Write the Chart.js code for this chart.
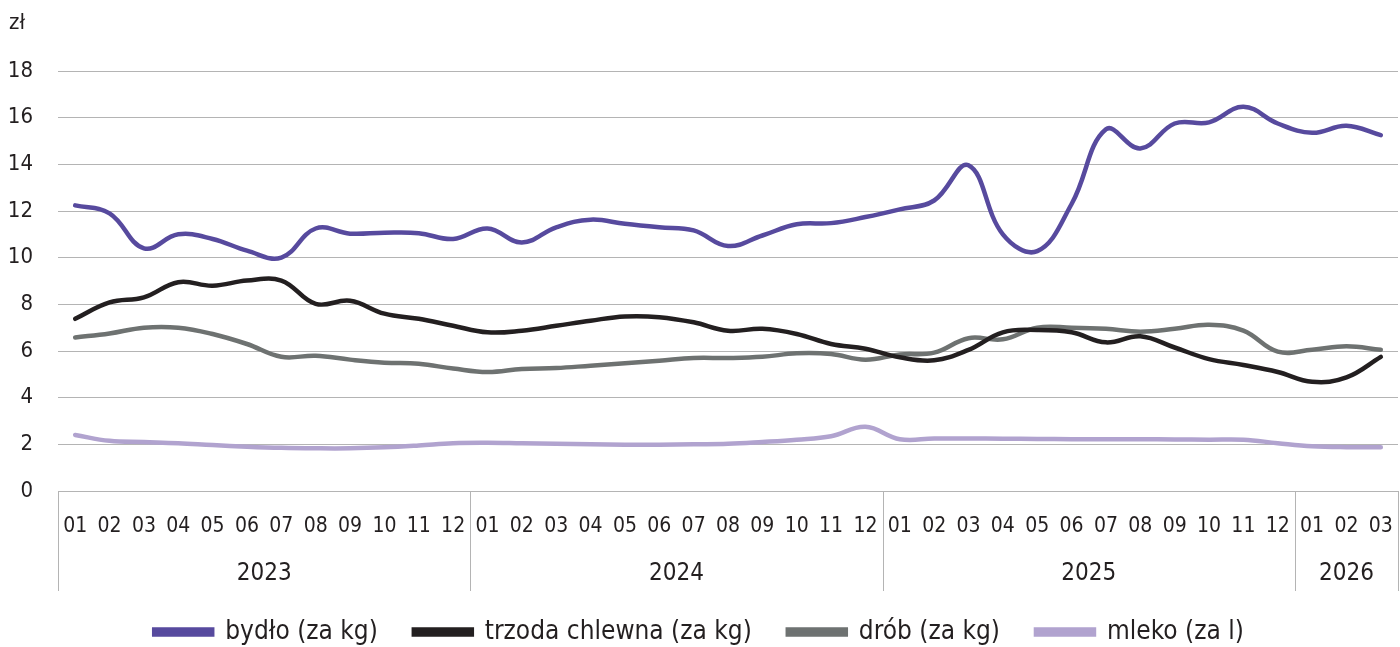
<!DOCTYPE html>
<html>
<head>
<meta charset="utf-8">
<script src="https://cdn.jsdelivr.net/npm/chart.js@4/dist/chart.umd.min.js"></script>
<style>
    html, body {margin: 0; padding: 0; background: #fff;}
    #wrap {width: 1400px; height: 647px;}
</style>
</head>
<body>
<div id="wrap"><canvas id="priceChart"></canvas></div>
<script>
"use strict";

const months = ["01","02","03","04","05","06","07","08","09","10","11","12",
    "01","02","03","04","05","06","07","08","09","10","11","12",
    "01","02","03","04","05","06","07","08","09","10","11","12",
    "01","02","03"];
const years = ["2023", "2024", "2025", "2026"];
const yearSizes = [12, 12, 12, 3];

const bydlo = [12.24, 11.9, 10.4, 11.0, 10.8, 10.3, 10.0, 11.25, 11.03, 11.07, 11.05, 10.8,
    11.25, 10.65, 11.3, 11.63, 11.45, 11.3, 11.17, 10.5, 10.95, 11.43, 11.48, 11.74,
    12.07, 12.45, 13.96, 11.0, 10.28, 12.3, 15.5, 14.68, 15.75, 15.8, 16.47, 15.75,
    15.35, 15.65, 15.25];
const trzoda = [7.38, 8.08, 8.3, 8.95, 8.8, 9.02, 9.02, 8.02, 8.15, 7.6, 7.38, 7.08,
    6.8, 6.87, 7.08, 7.3, 7.48, 7.45, 7.23, 6.87, 6.95, 6.73, 6.3, 6.1,
    5.73, 5.6, 6.05, 6.8, 6.9, 6.8, 6.37, 6.63, 6.15, 5.65, 5.4, 5.1,
    4.68, 4.87, 5.75];
const drob = [6.58, 6.75, 7.0, 7.0, 6.73, 6.3, 5.75, 5.8, 5.63, 5.5, 5.45, 5.25,
    5.1, 5.23, 5.27, 5.37, 5.47, 5.58, 5.7, 5.7, 5.75, 5.9, 5.87, 5.63,
    5.85, 5.93, 6.55, 6.5, 7.0, 7.0, 6.95, 6.83, 6.95, 7.12, 6.87, 5.97,
    6.05, 6.2, 6.05];
const mleko = [2.4, 2.15, 2.1, 2.05, 1.97, 1.9, 1.85, 1.83, 1.83, 1.87, 1.95, 2.05,
    2.07, 2.05, 2.03, 2.0, 1.98, 1.98, 2.0, 2.02, 2.1, 2.2, 2.35, 2.75,
    2.22, 2.25, 2.25, 2.24, 2.23, 2.22, 2.22, 2.22, 2.21, 2.2, 2.2, 2.05,
    1.92, 1.88, 1.88];

const FONT = "'Liberation Sans Narrow', 'DejaVu Sans Condensed', Roboto, sans-serif";
const textColor = '#231f20';
const lineColor = '#b4b4b4';

const yearAxisPlugin = {
    id: 'yearAxis',
    afterDraw(chart) {
        const ctx = chart.ctx;
        const x = chart.scales.x;
        const top = chart.chartArea.bottom;
        const step = x.getPixelForValue(1) - x.getPixelForValue(0);
        ctx.save();
        ctx.strokeStyle = lineColor;
        ctx.lineWidth = 1;
        let start = 0;
        const edges = [x.getPixelForValue(0) - step / 2];
        for (let i = 0; i < years.length; i++) {
            const end = start + yearSizes[i] - 1;
            edges.push(x.getPixelForValue(end) + step / 2);
            const mid = (x.getPixelForValue(start) + x.getPixelForValue(end)) / 2;
            ctx.fillStyle = textColor;
            ctx.font = "24px " + FONT;
            ctx.textAlign = 'center';
            ctx.textBaseline = 'middle';
            ctx.fillText(years[i], mid, top + 83);
            start = end + 1;
        }
        edges.forEach(e => {
            ctx.beginPath();
            ctx.moveTo(Math.round(e) + 0.5, top);
            ctx.lineTo(Math.round(e) + 0.5, top + 100);
            ctx.stroke();
        });
        // unit label
        ctx.fillStyle = textColor;
        ctx.font = "22px " + FONT;
        ctx.textAlign = 'left';
        ctx.textBaseline = 'middle';
        ctx.fillText('zł', 9, 23);
        ctx.restore();
    }
};

const ds = (label, data, color) => ({
    label: label,
    data: data,
    borderColor: color,
    backgroundColor: color,
    borderWidth: 4.5,
    pointRadius: 0,
    tension: 0.4,
    borderCapStyle: 'round'
});

const chart = new Chart(document.getElementById('priceChart'), {
    type: 'line',
    data: {
        labels: months,
        datasets: [
            ds('bydło (za kg)', bydlo, '#574a9e'),
            ds('trzoda chlewna (za kg)', trzoda, '#231f20'),
            ds('drób (za kg)', drob, '#6e7271'),
            ds('mleko (za l)', mleko, '#b1a3cf')
        ]
    },
    options: {
        responsive: true,
        maintainAspectRatio: false,
        animation: false,
        layout: {padding: {top: 71, right: 2, left: 0, bottom: -8}},
        plugins: {
            tooltip: {enabled: false},
            legend: {
                position: 'bottom',
                labels: {
                    color: textColor,
                    font: {family: FONT, size: 26},
                    boxWidth: 58,
                    boxHeight: 5,
                    padding: 36
                }
            }
        },
        scales: {
            x: {
                offset: true,
                grid: {display: false},
                border: {color: lineColor},
                ticks: {
                    color: textColor,
                    font: {family: FONT, size: 21, lineHeight: 2.25},
                    autoSkip: false,
                    maxRotation: 0,
                    padding: 4
                },
                afterFit(scale) {
                    scale.height = 92;
                }
            },
            y: {
                min: 0,
                max: 18,
                grid: {color: lineColor, drawTicks: false},
                border: {display: false},
                ticks: {
                    stepSize: 2,
                    color: textColor,
                    font: {family: FONT, size: 22},
                    padding: 25
                },
                afterFit(scale) {
                    scale.width = 58;
                }
            }
        }
    },
    plugins: [yearAxisPlugin]
});
</script>
</body>
</html>
